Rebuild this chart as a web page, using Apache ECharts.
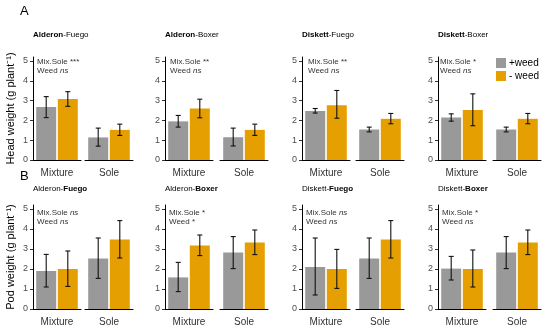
<!DOCTYPE html>
<html><head><meta charset="utf-8">
<script src="https://cdn.jsdelivr.net/npm/echarts@6/dist/echarts.min.js"></script>
<style>html,body{margin:0;padding:0;background:#fff}#c{width:550px;height:333px}</style>
</head><body><div id="c"></div>
<script>
// ---- data ----
const categories = ['Mixture', 'Sole'];
const seriesNames = ['+weed', '- weed'];
const yTicks = [0, 1, 2, 3, 4, 5];
const panelNames = [['Alderon', 'Fuego'], ['Alderon', 'Boxer'], ['Diskett', 'Fuego'], ['Diskett', 'Boxer']];
const rowLetters = ['A', 'B'];
const rowTitles = ['Head weight (g plant\u207B\u00B9)', 'Pod weight (g plant\u207B\u00B9)'];

const headMixSole = ['***', '**', '**', '*'];
const headWeed = ['ns', 'ns', 'ns', 'ns'];
const podMixSole = ['ns', '*', 'ns', '*'];
const podWeed = ['ns', '*', 'ns', 'ns'];

// [Mixture, Sole] for each panel
const headPlusMean = [[2.67, 1.14], [1.95, 1.15], [2.47, 1.54], [2.15, 1.54]];
const headPlusLow = [[2.14, 0.70], [1.66, 0.71], [2.37, 1.42], [1.96, 1.42]];
const headPlusHigh = [[3.20, 1.61], [2.25, 1.61], [2.60, 1.66], [2.33, 1.66]];
const headMinusMean = [[3.08, 1.52], [2.60, 1.52], [2.77, 2.08], [2.53, 2.08]];
const headMinusLow = [[2.71, 1.24], [2.13, 1.24], [2.11, 1.83], [1.73, 1.83]];
const headMinusHigh = [[3.45, 1.81], [3.07, 1.81], [3.51, 2.35], [3.34, 2.35]];

const podPlusMean = [[1.90, 2.53], [1.58, 2.82], [2.10, 2.53], [2.02, 2.82]];
const podPlusLow = [[1.10, 1.53], [0.87, 2.02], [0.70, 1.53], [1.45, 2.02]];
const podPlusHigh = [[2.73, 3.55], [2.33, 3.62], [3.55, 3.55], [2.63, 3.62]];
const podMinusMean = [[2.00, 3.47], [3.18, 3.32], [2.00, 3.47], [2.00, 3.32]];
const podMinusLow = [[1.13, 2.55], [2.67, 2.72], [1.03, 2.55], [1.10, 2.72]];
const podMinusHigh = [[2.90, 4.42], [3.70, 3.95], [2.98, 4.42], [2.95, 3.95]];

// ---- layout / style ----
const FONT = '"Liberation Sans", Arial, sans-serif';
const GREY = '#999999', ORANGE = '#E69F00';
const facetLeft = [[33, 85], [165, 220], [302, 356], [438, 493]];
const facetW = 48;
const rowTop = [57, 205];
const rowH = [103, 104];
const titleTop = [31, 185];
const annotLeft = [[37, 170, 308, 440], [37, 169, 306, 442]];
const annotTop = [57, 208];
const BAR_W = 20, GAP = 1.6, CAP = 2.5;

const rows = [
  {mixSole: headMixSole, weed: headWeed,
   plus: [headPlusMean, headPlusLow, headPlusHigh], minus: [headMinusMean, headMinusLow, headMinusHigh]},
  {mixSole: podMixSole, weed: podWeed,
   plus: [podPlusMean, podPlusLow, podPlusHigh], minus: [podMinusMean, podMinusLow, podMinusHigh]}
];

function errRender(dx) {
  return function (params, api) {
    const lo = api.coord([api.value(0), api.value(1)]);
    const hi = api.coord([api.value(0), api.value(2)]);
    const x = lo[0] + dx;
    const st = {stroke: '#111', lineWidth: 1.1};
    return {type: 'group', children: [
      {type: 'line', shape: {x1: x, y1: lo[1], x2: x, y2: hi[1]}, style: st},
      {type: 'line', shape: {x1: x - CAP, y1: lo[1], x2: x + CAP, y2: lo[1]}, style: st},
      {type: 'line', shape: {x1: x - CAP, y1: hi[1], x2: x + CAP, y2: hi[1]}, style: st}
    ]};
  };
}

const grid = [], xAxis = [], yAxis = [], series = [], title = [];
const dx = BAR_W / 2 + GAP / 2;

rows.forEach((row, r) => {
  title.push({text: rowLetters[r], left: 20, top: r === 0 ? 5 : 170, padding: 0,
    textStyle: {fontFamily: FONT, fontSize: 13, fontWeight: 'normal', color: '#000'}});
  panelNames.forEach((pn, p) => {
    const t = r === 0 ? '{b|' + pn[0] + '}{n|-' + pn[1] + '}' : '{n|' + pn[0] + '-}{b|' + pn[1] + '}';
    title.push({text: t, left: facetLeft[p][0], top: titleTop[r], padding: 0,
      textStyle: {fontFamily: FONT, fontSize: 8, fontWeight: 'normal', color: '#000', rich: {
        b: {fontFamily: FONT, fontSize: 8, fontWeight: 'bold', color: '#000'},
        n: {fontFamily: FONT, fontSize: 8, fontWeight: 'normal', color: '#000'}}}});
    const fmt = (s) => s === 'ns' ? '{i|ns}' : '{n|' + s + '}';
    title.push({text: '{n|Mix.Sole }' + fmt(row.mixSole[p]) + '\n{n|Weed }' + fmt(row.weed[p]),
      left: annotLeft[r][p], top: annotTop[r], padding: 0,
      textStyle: {fontFamily: FONT, fontSize: 8, fontWeight: 'normal', color: '#333', rich: {
        n: {fontFamily: FONT, fontSize: 8, fontWeight: 'normal', color: '#333', lineHeight: 9.5},
        i: {fontFamily: FONT, fontSize: 8, fontWeight: 'normal', fontStyle: 'italic', color: '#333', lineHeight: 9.5}}}});
    categories.forEach((cat, f) => {
      const gi = grid.length;
      grid.push({left: facetLeft[p][f], top: rowTop[r], width: facetW, height: rowH[r]});
      xAxis.push({type: 'category', gridIndex: gi, data: [cat],
        axisLine: {show: true, lineStyle: {color: '#000', width: 1}},
        axisTick: {show: false},
        axisLabel: {fontFamily: FONT, fontSize: 10, color: '#333', margin: 8}});
      const first = f === 0;
      const ya = {type: 'value', gridIndex: gi, min: 0, max: 5.2, interval: 1,
        splitLine: {show: false}, show: first,
        axisLine: {show: true, lineStyle: {color: '#000', width: 1}},
        axisTick: {show: true, length: 3, lineStyle: {color: '#333'}, customValues: yTicks},
        axisLabel: {fontFamily: FONT, fontSize: 9, color: '#4D4D4D', margin: 5, customValues: yTicks}};
      if (first && p === 0) {
        ya.name = rowTitles[r];
        ya.nameLocation = 'middle';
        ya.nameRotate = 90;
        ya.nameGap = 17;
        ya.nameTextStyle = {fontFamily: FONT, fontSize: 11, color: '#000'};
      }
      yAxis.push(ya);
      series.push({type: 'bar', name: seriesNames[0], xAxisIndex: gi, yAxisIndex: gi,
        data: [row.plus[0][p][f]], barWidth: BAR_W, barGap: (GAP / BAR_W * 100) + '%',
        itemStyle: {color: GREY}, silent: true});
      series.push({type: 'bar', name: seriesNames[1], xAxisIndex: gi, yAxisIndex: gi,
        data: [row.minus[0][p][f]], barWidth: BAR_W, barGap: (GAP / BAR_W * 100) + '%',
        itemStyle: {color: ORANGE}, silent: true});
      series.push({type: 'custom', xAxisIndex: gi, yAxisIndex: gi, z: 5,
        data: [[0, row.plus[1][p][f], row.plus[2][p][f]]], encode: {x: 0, y: [1, 2]},
        renderItem: errRender(-dx)});
      series.push({type: 'custom', xAxisIndex: gi, yAxisIndex: gi, z: 5,
        data: [[0, row.minus[1][p][f], row.minus[2][p][f]]], encode: {x: 0, y: [1, 2]},
        renderItem: errRender(dx)});
    });
  });
});

const chart = echarts.init(document.getElementById('c'), null, {renderer: 'canvas'});
chart.setOption({
  animation: false,
  backgroundColor: '#fff',
  title: title,
  legend: {data: seriesNames, orient: 'vertical', left: 496, top: 58, padding: 0, itemWidth: 10, itemHeight: 10,
    itemGap: 3, icon: 'rect', textStyle: {fontFamily: FONT, fontSize: 10, color: '#000', padding: [0, 0, 0, -2]}},
  grid: grid, xAxis: xAxis, yAxis: yAxis, series: series
});
</script></body></html>
